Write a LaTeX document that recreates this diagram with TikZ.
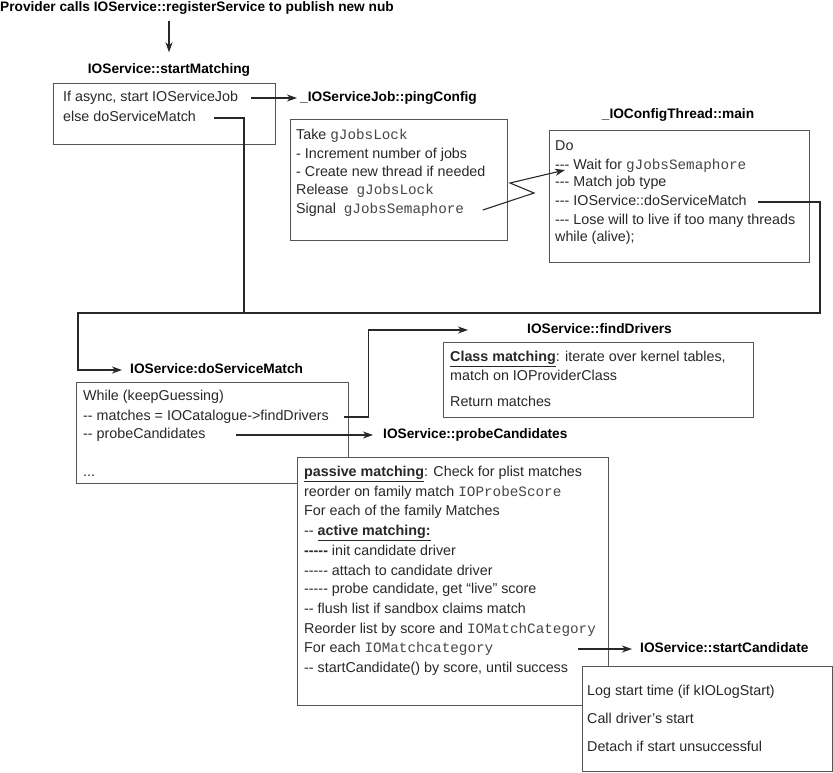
\documentclass[tikz,border=0pt]{standalone}
\usepackage{fontspec}
\setmainfont{Liberation Sans}[Ligatures=TeXOff]
\setmonofont{Liberation Mono}
\usetikzlibrary{arrows.meta}
\definecolor{inkgray}{RGB}{40,40,40}
\definecolor{framegray}{RGB}{85,85,85}
\definecolor{codegray}{RGB}{70,70,70}
\newcommand{\txfont}{\fontsize{14.3}{17}\selectfont}
\newcommand{\hdfont}{\fontsize{13.7}{16}\selectfont\bfseries}
\newcommand{\code}[1]{{\fontsize{14.3}{17}\selectfont\ttfamily\color{codegray}#1}}

\begin{document}
\begin{tikzpicture}[
    x=1pt, y=-1pt,
    box/.style={draw=framegray, line width=0.9pt, fill=white, anchor=north west, inner sep=0pt},
    ln/.style={anchor=west, inner sep=0pt, text height=10pt, text depth=3pt, font=\txfont, text=inkgray},
    hd/.style={inner sep=0pt, text height=10pt, text depth=3pt, font=\hdfont},
    conn/.style={line width=1.1pt, inkgray},
    arr/.style={conn, -{Stealth[length=10pt, width=7pt, inset=3pt]}},
]
\useasboundingbox (0,0) rectangle (833,772);

% top: registerService -> startMatching
\node[hd, anchor=west] (prov) at (0,8) {Provider calls IOService::registerService to publish new nub};
\node[hd] (startT) at (169,70) {IOService::startMatching};
\node[box, minimum width=222, minimum height=61] (smbox) at (53,83) {};
\node[ln] (sm1) at (63,98) {If async, start IOServiceJob};
\node[ln] (sm2) at (63,118) {else doServiceMatch};

% pingConfig
\node[hd, anchor=west] (pingT) at (300,98) {\_IOServiceJob::pingConfig};
\node[box, minimum width=217, minimum height=121] (pingbox) at (290,119) {};
\node[ln] (ping1) at (296,136) {Take \code{gJobsLock}};
\node[ln] (ping2) at (296,155) {- Increment number of jobs};
\node[ln] (ping3) at (296,173) {- Create new thread if needed};
\node[ln] (ping4) at (296,191) {Release \ \code{gJobsLock}};
\node[ln] (ping5) at (296,210) {Signal \ \code{gJobsSemaphore}};

% config thread
\node[hd] (cfgT) at (678,115) {\_IOConfigThread::main};
\node[box, minimum width=260, minimum height=132] (cfgbox) at (549,130) {};
\node[ln] (cfg1) at (555,147) {Do};
\node[ln] (cfg2) at (555,166) {--- Wait for \code{gJobsSemaphore}};
\node[ln] (cfg3) at (555,183) {--- Match job type};
\node[ln] (cfg4) at (555,202) {--- IOService::doServiceMatch};
\node[ln] (cfg5) at (555,221) {--- Lose will to live if too many threads};
\node[ln] (cfg6) at (555,238) {while (alive);};

% doServiceMatch
\node[hd, anchor=west] (dsmT) at (130,370) {IOService:doServiceMatch};
\node[box, minimum width=272, minimum height=101] (dsmbox) at (76,382) {};
\node[ln] (dsm1) at (83,397) {While (keepGuessing)};
\node[ln] (dsm2) at (83,417) {-- matches = IOCatalogue->findDrivers};
\node[ln] (dsm3) at (83,435) {-- probeCandidates};
\node[ln] (dsm4) at (83,473) {...};

% findDrivers
\node[hd, anchor=west] (fdT) at (527,330) {IOService::findDrivers};
\node[box, minimum width=310, minimum height=75] (fdbox) at (443,342) {};
\node[ln] (fd1) at (450,358) {\underline{\textbf{Class matching}}: iterate over kernel tables,};
\node[ln] (fd2) at (450,377) {match on IOProviderClass};
\node[ln] (fd3) at (450,403) {Return matches};

% probeCandidates
\node[hd, anchor=west] (pcT) at (383,435) {IOService::probeCandidates};
\node[box, minimum width=311, minimum height=248] (pcbox) at (297,457) {};
\node[ln] (pc1) at (304,473) {\underline{\textbf{passive matching}}: Check for plist matches};
\node[ln] (pc2) at (304,493) {reorder on family match \code{IOProbeScore}};
\node[ln] (pc3) at (304,512) {For each of the family Matches};
\node[ln] (pc4) at (304,532) {-- \underline{\textbf{active matching:}}};
\node[ln] (pc5) at (304,552) {\textbf{-----} init candidate driver};
\node[ln] (pc6) at (304,572) {----- attach to candidate driver};
\node[ln] (pc7) at (304,590) {----- probe candidate, get “live” score};
\node[ln] (pc8) at (304,610) {-- flush list if sandbox claims match};
\node[ln] (pc9) at (304,630) {Reorder list by score and \code{IOMatchCategory}};
\node[ln] (pc10) at (304,649) {For each \code{IOMatchcategory}};
\node[ln] (pc11) at (304,669) {-- startCandidate() by score, until success};

% startCandidate
\node[hd, anchor=west] (scT) at (640,649) {IOService::startCandidate};
\node[box, minimum width=250, minimum height=105] (scbox) at (582,666) {};
\node[ln] (sc1) at (587,692) {Log start time (if kIOLogStart)};
\node[ln] (sc2) at (587,720) {Call driver’s start};
\node[ln] (sc3) at (587,748) {Detach if start unsuccessful};

% connectors
\coordinate (zz1) at (534,193);
\coordinate (zz2) at (510,183);
\coordinate (busL) at (78,313);
\coordinate (busM) at (244,313);
\coordinate (busR) at (820,313);
\draw[arr] (prov.south -| startT.north) ++(0,6) -- ([yshift=11pt]startT.north);
\draw[arr] ([xshift=-25pt]smbox.east |- sm1) -- ([xshift=-3pt]pingT.west);
\draw[arr] ([xshift=-25pt]pingbox.east |- ping5) -- (zz1) -- (zz2) -- ([shift={(10pt,-4pt)}]cfg2.west);
\draw[arr] ([xshift=-52pt]cfgbox.east |- cfg4) -| (busR) -- (busL) |- ([xshift=-8pt]dsmT.west);
\draw[conn] ([xshift=-62pt]smbox.east |- sm2) -| (busM);
\draw[arr] ([xshift=-5pt]dsmbox.east |- dsm2) -- ++(25,0) |- ([xshift=-59pt]fdT.west);
\draw[arr] ([xshift=-113pt]dsmbox.east |- dsm3) -- ([xshift=-10pt]pcT.west);
\draw[arr] ([xshift=-31pt]pcbox.east |- pc10) -- ([xshift=-8pt]scT.west);
\end{tikzpicture}
\end{document}
